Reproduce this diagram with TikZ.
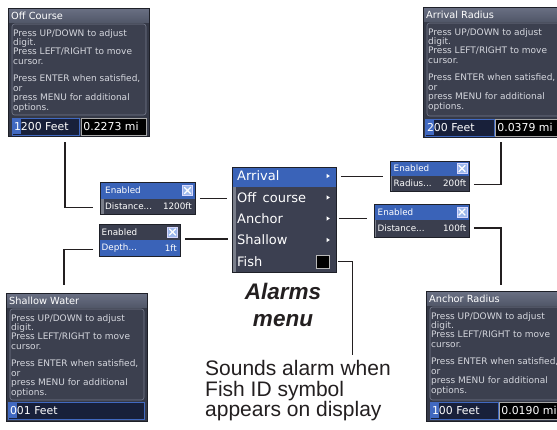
\documentclass[tikz,border=0pt]{standalone}
\usepackage{fontspec}
\setmainfont{Liberation Sans}
\newfontfamily\scrfont{DejaVu Sans}
\usetikzlibrary{calc}
\definecolor{linec}{HTML}{231F20}
\definecolor{framec}{HTML}{353947}
\definecolor{paneltop}{HTML}{3C404F}
\definecolor{panelbd}{HTML}{767B8C}
\definecolor{titletop}{HTML}{6A7084}
\definecolor{titlebot}{HTML}{525869}
\definecolor{bodyc}{HTML}{D5D7DE}
\definecolor{menubg}{HTML}{3C4051}
\definecolor{hiblue}{HTML}{3A63B8}
\definecolor{darkrow}{HTML}{3A3E4E}
\definecolor{navy}{HTML}{18203A}
\definecolor{fieldblue}{HTML}{4169C0}
\definecolor{stripc}{HTML}{7A7E8A}
\definecolor{chkc}{HTML}{9DB8EC}
\definecolor{boxbd}{HTML}{1E2028}
\newcommand\bodytext{Press UP/DOWN to adjust\\digit.\\Press LEFT/RIGHT to move\\cursor.\\[8.2pt]Press ENTER when satisfied,\\or\\press MENU for additional\\options.}
% screen: name, x0, y0, w, h, title
\newcommand\screen[6]{%
  \node[scrbox, minimum width=#4pt, minimum height=#5pt] (#1) at (#2,#3) {};
  \shade[top color=titletop, bottom color=titlebot] (#2,#3) rectangle ++(#4,14);
  \draw[boxbd, line width=0.8pt] (#1.north west) rectangle (#1.south east);
  \node[titletext] at (#2+3,#3+7.5) {#6};
  \draw[panelst] (#2+4,#3+16) rectangle (#2+#4-3,#3+#5-21);
  \node[bodytextst] at (#2+5,#3+21) {\bodytext};
}
% field with highlighted first digit: x, y, w, digit, rest
\newcommand\fieldA[5]{%
  \fill[navy] (#1,#2) rectangle ++(#3,17);
  \draw[fieldblue, line width=0.8pt] (#1,#2) rectangle ++(#3,17);
  \fill[fieldblue] (#1+0.6,#2+1) rectangle ++(8.4,15);
  \node[fieldtext] at (#1+1.8,#2+12.8) {#4#5};
}
% plain black field: x, y, w, text
\newcommand\fieldB[4]{%
  \fill[black] (#1,#2) rectangle ++(#3,17);
  \draw[gray!70, line width=0.6pt] (#1,#2) rectangle ++(#3,17);
  \node[fieldtext] at (#1+2.2,#2+12.8) {#4};
}
% checkbox centred at x,y
\newcommand\chkbox[2]{%
  \fill[chkc] (#1-4.8,#2-4.8) rectangle (#1+4.8,#2+4.8);
  \draw[white!85!blue, line width=0.5pt] (#1-4.8,#2-4.8) rectangle (#1+4.8,#2+4.8);
  \draw[white, line width=1.1pt] (#1-3.3,#2-3.3) -- (#1+3.3,#2+3.3) (#1-3.3,#2+3.3) -- (#1+3.3,#2-3.3);
}
\begin{document}
\begin{tikzpicture}[x=1pt,y=-1pt,
  conn/.style={line width=1.6pt, draw=linec},
  scrbox/.style={anchor=north west, inner sep=0pt, fill=framec},
  titletext/.style={anchor=west, inner sep=0pt, text=white, font=\scrfont\fontsize{9.8}{11}\selectfont},
  panelst/.style={draw=panelbd, fill=paneltop, line width=0.6pt, rounded corners=2.5pt},
  bodytextst/.style={anchor=north west, inner sep=0pt, align=left, text=bodyc, font=\scrfont\fontsize{9}{9.4}\selectfont},
  fieldtext/.style={anchor=base west, inner sep=0pt, text=white, font=\scrfont\fontsize{10.9}{12}\selectfont},
  enbox/.style={anchor=north west, inner sep=0pt, draw=boxbd, line width=0.8pt},
  entext/.style={anchor=west, inner sep=0pt, text=white, font=\scrfont\fontsize{8.8}{10}\selectfont},
  envalue/.style={anchor=east, inner sep=0pt, text=white, font=\scrfont\fontsize{8.8}{10}\selectfont},
  menutext/.style={anchor=west, inner sep=0pt, text=white, font=\scrfont\fontsize{13}{15}\selectfont}
]
\useasboundingbox (0,0) rectangle (557,429);
\clip (0,0) rectangle (557,429);
\fill[white] (0,0) rectangle (557,429);

% ---------- screens ----------
\screen{oc}{8}{8}{141}{128}{Off Course}
\fieldA{12}{118}{67}{1}{200 Feet}
\fieldB{81}{118}{65}{0.2273 mi}

\screen{ar}{423}{7}{140}{130}{Arrival Radius}
\fieldA{425}{119}{69}{2}{00 Feet}
\fieldB{495}{119}{70}{0.0379 mi}

\screen{sw}{6}{293}{141}{128}{Shallow Water}
\fieldA{8}{402}{136}{0}{01 Feet}

\screen{anr}{426}{291}{140}{130}{Anchor Radius}
\fieldA{430}{402}{68}{1}{00 Feet}
\fieldB{499}{402}{66}{0.0190 mi}

% ---------- enabled boxes ----------
% A: Distance 1200ft
\fill[hiblue] (100,182) rectangle (195,198.5);
\fill[darkrow] (100,198.5) rectangle (195,214);
\fill[stripc] (100,198.5) rectangle (104,214);
\node[enbox, minimum width=95pt, minimum height=32pt] (ea) at (100,182) {};
\node[entext] at (105,190.5) {Enabled};
\chkbox{187.5}{190.5}
\node[entext] at (105,206.5) {Distance...};
\node[envalue] at (192,206.5) {1200ft};

% B: Depth 1ft
\fill[darkrow] (99,224) rectangle (180,240);
\fill[hiblue] (99,240) rectangle (180,256);
\node[enbox, minimum width=81pt, minimum height=32pt] (eb) at (99,224) {};
\node[entext] at (101.5,232) {Enabled};
\chkbox{172.5}{232}
\node[entext] at (101.5,248) {Depth...};
\node[envalue] at (177,248) {1ft};

% C: Radius 200ft
\fill[hiblue] (390,161) rectangle (469,176);
\fill[darkrow] (390,176) rectangle (469,191);
\fill[stripc] (390,176) rectangle (392,191);
\node[enbox, minimum width=79pt, minimum height=30pt] (ec) at (390,161) {};
\node[entext] at (393.5,168.5) {Enabled};
\chkbox{462}{168.5}
\node[entext] at (393.5,183.5) {Radius...};
\node[envalue] at (466.5,183.5) {200ft};

% D: Distance 100ft
\fill[hiblue] (374,204) rectangle (469,220);
\fill[darkrow] (374,220) rectangle (469,237);
\fill[stripc] (374,220) rectangle (376,237);
\node[enbox, minimum width=95pt, minimum height=33pt] (ed) at (374,204) {};
\node[entext] at (377.5,212) {Enabled};
\chkbox{462}{212}
\node[entext] at (377.5,228.5) {Distance...};
\node[envalue] at (466.5,228.5) {100ft};

% ---------- menu ----------
\fill[menubg] (232,167) rectangle (336,272);
\fill[stripc] (232,187) rectangle (235.5,272);
\fill[hiblue] (232.5,167.5) rectangle (335.5,187);
\node[anchor=north west, inner sep=0pt, minimum width=104pt, minimum height=105pt, draw=boxbd, line width=0.8pt] (menu) at (232,167) {};
\node[menutext] (m1) at (237,176) {Arrival};
\node[menutext] (m2) at (237,197.5) {Off\, course};
\node[menutext] (m3) at (237,218.5) {Anchor};
\node[menutext] (m4) at (237,240) {Shallow};
\node[menutext] (m5) at (237,261.5) {Fish};
\foreach \yy in {176,197.5,218.5,240}{
  \fill[white] (326.5,\yy-2.2) -- (329.8,\yy) -- (326.5,\yy+2.2) -- cycle;
}
\node[draw=gray!55, line width=0.8pt, fill=black, minimum size=13pt, inner sep=0pt] (fb) at (323,261.5) {};

% ---------- captions ----------
\node[anchor=north, inner sep=0pt, align=center, font=\bfseries\itshape\fontsize{22.5}{27}\selectfont, text=linec] (alm) at (283,283.3) {Alarms\\menu};
\node[anchor=north west, inner sep=0pt, align=left, font=\fontsize{21}{20.6}\selectfont, text=linec] (cap) at (205,360.2) {Sounds alarm when\\Fish ID symbol\\appears on display};
\coordinate (fe) at (352.5,355);

% ---------- connectors ----------
\draw[conn] ([xshift=-14pt,yshift=-6pt]oc.south) |- ([xshift=-7pt,yshift=-9pt]ea.west);
\draw[conn] ([xshift=4pt]ea.east) -- ([xshift=-5pt]ea.east -| menu.west);
\draw[conn] ([xshift=4pt,yshift=1.5pt]eb.east) -- ([xshift=-4pt,yshift=1.5pt]eb.east -| menu.west);
\draw[conn] ([xshift=-6pt,yshift=-9pt]eb.west) -| ([xshift=-12.5pt,yshift=8pt]sw.north);
\draw[conn] ([xshift=4pt]menu.east |- ec.west) -- ([xshift=-7pt]ec.west);
\draw[conn] ([xshift=4pt,yshift=-8pt]ec.east) -| ([xshift=7.7pt,yshift=-5pt]ar.south);
\draw[conn] ([xshift=2pt,yshift=2.5pt]menu.east |- ed.west) -- ([xshift=-7pt,yshift=2.5pt]ed.west);
\draw[conn] ([xshift=4pt,yshift=-7pt]ed.east) -| ([xshift=4.7pt,yshift=6pt]anr.north);
\draw[conn] ([xshift=8pt]fb.east) -| (fe);
\end{tikzpicture}
\end{document}
